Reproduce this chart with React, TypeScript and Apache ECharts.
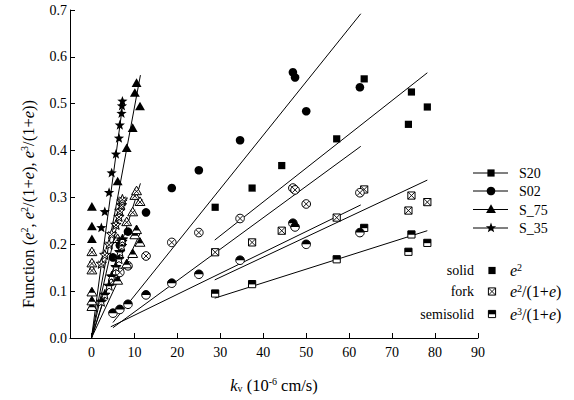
import React, { useEffect, useRef } from 'react';
import * as echarts from 'echarts';

const FONT = 'Liberation Serif, Times New Roman, serif';

const xTicks = [0, 10, 20, 30, 40, 50, 60, 70, 80, 90];

// S20 (squares)
const s20X = [28.8, 37.4, 44.3, 57.1, 63.5, 73.8, 74.5, 78.2];
const s20E2 = [0.279, 0.32, 0.368, 0.425, 0.553, 0.456, 0.525, 0.493];
const s20Fork = [0.183, 0.204, 0.229, 0.257, 0.317, 0.272, 0.304, 0.29];
const s20SemiX = [28.8, 37.4, 57.1, 63.5, 73.8, 74.5, 78.2];
const s20Semi = [0.095, 0.115, 0.168, 0.235, 0.184, 0.221, 0.203];

// S02 (circles)
const s02X = [5.0, 6.6, 8.5, 12.7, 18.7, 25.0, 34.6, 46.9, 47.4, 50.0, 62.5];
const s02E2 = [0.172, 0.198, 0.227, 0.268, 0.32, 0.358, 0.422, 0.567, 0.556, 0.484, 0.535];
const s02Fork = [0.122, 0.14, 0.154, 0.175, 0.204, 0.225, 0.255, 0.32, 0.316, 0.286, 0.31];
const s02Semi = [0.053, 0.061, 0.072, 0.092, 0.117, 0.136, 0.166, 0.245, 0.237, 0.2, 0.225];

// S_75 (triangles)
const s75X = [0.1, 0.1, 0.1, 6.1, 8.2, 9.6, 10.1, 10.5, 11.3];
const s75E2 = [0.21, 0.237, 0.279, 0.333, 0.404, 0.447, 0.522, 0.543, 0.493];
const s75Fork = [0.144, 0.159, 0.183, 0.211, 0.247, 0.268, 0.303, 0.313, 0.29];
const s75Semi = [0.066, 0.078, 0.097, 0.122, 0.157, 0.179, 0.219, 0.23, 0.203];

// S_35 (stars)
const s35X = [2.3, 3.1, 4.1, 4.7, 5.7, 6.4, 6.6, 7.0, 7.1, 7.2];
const s35E2 = [0.235, 0.269, 0.31, 0.352, 0.392, 0.426, 0.454, 0.479, 0.495, 0.505];
const s35Fork = [0.158, 0.177, 0.199, 0.221, 0.241, 0.258, 0.271, 0.283, 0.291, 0.295];
const s35Semi = [0.077, 0.092, 0.111, 0.131, 0.151, 0.168, 0.183, 0.196, 0.205, 0.21];

// fitted lines (end points)
const lineS20X = [28.7, 78.2];
const lineS20E2 = [0.209, 0.566];
const lineS20Fork = [0.124, 0.337];
const lineS20Semi = [0.085, 0.229];
const lineS02X = [5.0, 62.7];
const lineS02E2 = [0.033, 0.692];
const lineS02Fork = [0.022, 0.409];
const lineS02SemiX = [4.5, 62.7];
const lineS02Semi = [0.024, 0.284];
const lineS75X = [0, 11.4];
const lineS75E2 = [0, 0.561];
const lineS75Fork = [0, 0.33];
const lineS75Semi = [0, 0.225];
const lineS35X = [0, 7.4];
const lineS35E2 = [0, 0.507];
const lineS35Fork = [0, 0.3];
const lineS35Semi = [0, 0.21];

const soilNames = ['S20', 'S02', 'S_75', 'S_35'];
const soilShapes = ['square', 'circle', 'triangle', 'star'];
const fillNames = ['solid', 'fork', 'semisolid'];

type P = [number, number];

function starPts(cx: number, cy: number, R: number): P[] {
  const pts: P[] = [];
  for (let k = 0; k < 10; k++) {
    const r = k % 2 === 0 ? R : R * 0.42;
    const a = -Math.PI / 2 + (k * Math.PI) / 5;
    pts.push([cx + r * Math.cos(a), cy + r * Math.sin(a)]);
  }
  return pts;
}

function clipAbove(pts: P[], yc: number): P[] {
  const out: P[] = [];
  for (let i = 0; i < pts.length; i++) {
    const a = pts[i];
    const b = pts[(i + 1) % pts.length];
    const ain = a[1] <= yc;
    const bin = b[1] <= yc;
    if (ain) out.push(a);
    if (ain !== bin) {
      const t = (yc - a[1]) / (b[1] - a[1]);
      out.push([a[0] + t * (b[0] - a[0]), yc]);
    }
  }
  return out;
}

function seg(x1: number, y1: number, x2: number, y2: number) {
  return { type: 'line', shape: { x1, y1, x2, y2 }, style: { stroke: '#000', lineWidth: 0.9 } };
}

function glyph(shape: string, fill: string, cx: number, cy: number): any[] {
  const B = '#000';
  const ch: any[] = [];
  if (shape === 'circle') {
    const r = 4.3;
    if (fill === 'solid') {
      ch.push({ type: 'circle', shape: { cx, cy, r }, style: { fill: B } });
    } else {
      ch.push({ type: 'circle', shape: { cx, cy, r }, style: { fill: '#fff', stroke: B, lineWidth: 1 } });
      if (fill === 'semisolid') {
        ch.push({
          type: 'sector',
          shape: { cx, cy, r0: 0, r, startAngle: Math.PI, endAngle: Math.PI * 2, clockwise: true },
          style: { fill: B },
        });
      } else {
        const d = r * 0.68;
        ch.push(seg(cx - d, cy - d, cx + d, cy + d), seg(cx - d, cy + d, cx + d, cy - d));
      }
    }
    return ch;
  }
  let pts: P[];
  let d: number;
  if (shape === 'square') {
    const r = 3.6;
    pts = [[cx - r, cy - r], [cx + r, cy - r], [cx + r, cy + r], [cx - r, cy + r]];
    d = r;
  } else if (shape === 'triangle') {
    const r = 5.2;
    pts = [[cx, cy - r], [cx + r * 0.95, cy + r * 0.65], [cx - r * 0.95, cy + r * 0.65]];
    d = 2.6;
  } else {
    pts = starPts(cx, cy, 5.4);
    d = 3.2;
  }
  if (fill === 'solid') {
    ch.push({ type: 'polygon', shape: { points: pts }, style: { fill: B } });
  } else {
    ch.push({ type: 'polygon', shape: { points: pts }, style: { fill: '#fff', stroke: B, lineWidth: 1 } });
    if (fill === 'semisolid') {
      ch.push({ type: 'polygon', shape: { points: clipAbove(pts, cy + 0.3) }, style: { fill: B } });
    } else {
      ch.push(seg(cx - d, cy - d, cx + d, cy + d), seg(cx - d, cy + d, cx + d, cy - d));
    }
  }
  return ch;
}

function markSeries(name: string, xs: number[], ys: number[], shape: string, fill: string) {
  return {
    name,
    type: 'custom',
    coordinateSystem: 'cartesian2d',
    data: xs.map((x, i) => [x, ys[i]]),
    renderItem: (_params: any, api: any) => {
      const p = api.coord([api.value(0), api.value(1)]);
      return { type: 'group', children: glyph(shape, fill, p[0], p[1]) };
    },
    z: 3,
    silent: true,
  };
}

function fitSeries(xs: number[], ys: number[]) {
  return {
    type: 'line',
    data: xs.map((x, i) => [x, ys[i]]),
    symbol: 'none',
    lineStyle: { color: '#000', width: 1 },
    z: 2,
    silent: true,
  };
}

function richMath(size: number) {
  const s = Math.round(size * 0.62);
  return {
    i: { fontStyle: 'italic', fontFamily: FONT, fontSize: size, fill: '#000' },
    sup: { fontSize: s, fontFamily: FONT, verticalAlign: 'top', fill: '#000' },
    sub: { fontSize: s, fontFamily: FONT, verticalAlign: 'bottom', fill: '#000' },
  };
}

export default function App() {
  const ref = useRef<HTMLDivElement>(null);
  useEffect(() => {
    if (!ref.current) return;
    const chart = echarts.init(ref.current, null, { renderer: 'svg' });

    const graphics: any[] = [];
    // soil legend
    const legY = [173, 191, 209.5, 228];
    soilNames.forEach((n, k) => {
      graphics.push({
        type: 'group',
        children: [
          { type: 'line', shape: { x1: 473, y1: legY[k], x2: 508, y2: legY[k] }, style: { stroke: '#000', lineWidth: 1 } },
          ...glyph(soilShapes[k], 'solid', 491, legY[k]),
          {
            type: 'text',
            x: 519,
            y: legY[k] + 0.5,
            style: { text: n, fontFamily: FONT, fontSize: 14, fill: '#000', align: 'left', verticalAlign: 'middle' },
          },
        ],
      });
    });
    // fill legend
    const fY = [270.5, 291.5, 314];
    const mathTexts = ['{i|e}{sup|2}', '{i|e}{sup|2}/(1+{i|e})', '{i|e}{sup|3}/(1+{i|e})'];
    fillNames.forEach((n, k) => {
      graphics.push({
        type: 'group',
        children: [
          {
            type: 'text',
            x: 474,
            y: fY[k],
            style: { text: n, fontFamily: FONT, fontSize: 14, fill: '#000', align: 'right', verticalAlign: 'middle' },
          },
          ...glyph('square', n, 492, fY[k]),
          {
            type: 'text',
            x: 510,
            y: fY[k],
            style: {
              text: mathTexts[k],
              fontFamily: FONT,
              fontSize: 16,
              fill: '#000',
              align: 'left',
              verticalAlign: 'middle',
              rich: richMath(16),
            },
          },
        ],
      });
    });
    // axis names
    graphics.push({
      type: 'text',
      x: 28,
      y: 204,
      rotation: Math.PI / 2,
      style: {
        text: 'Function ({i|e}{sup|2}, {i|e}{sup|2}/(1+{i|e}), {i|e}{sup|3}/(1+{i|e}))',
        fontFamily: FONT,
        fontSize: 16.5,
        fill: '#000',
        align: 'center',
        verticalAlign: 'middle',
        rich: richMath(16.5),
      },
    });
    graphics.push({
      type: 'text',
      x: 274,
      y: 385,
      style: {
        text: '{i|k}{sub|v} (10{sup|-6} cm/s)',
        fontFamily: FONT,
        fontSize: 16.5,
        fill: '#000',
        align: 'center',
        verticalAlign: 'middle',
        rich: richMath(16.5),
      },
    });

    const series: any[] = [
      fitSeries(lineS20X, lineS20E2),
      fitSeries(lineS20X, lineS20Fork),
      fitSeries(lineS20X, lineS20Semi),
      fitSeries(lineS02X, lineS02E2),
      fitSeries(lineS02X, lineS02Fork),
      fitSeries(lineS02SemiX, lineS02Semi),
      fitSeries(lineS75X, lineS75E2),
      fitSeries(lineS75X, lineS75Fork),
      fitSeries(lineS75X, lineS75Semi),
      fitSeries(lineS35X, lineS35E2),
      fitSeries(lineS35X, lineS35Fork),
      fitSeries(lineS35X, lineS35Semi),
      markSeries('S20 solid', s20X, s20E2, 'square', 'solid'),
      markSeries('S20 fork', s20X, s20Fork, 'square', 'fork'),
      markSeries('S20 semisolid', s20SemiX, s20Semi, 'square', 'semisolid'),
      markSeries('S02 solid', s02X, s02E2, 'circle', 'solid'),
      markSeries('S02 fork', s02X, s02Fork, 'circle', 'fork'),
      markSeries('S02 semisolid', s02X, s02Semi, 'circle', 'semisolid'),
      markSeries('S_75 solid', s75X, s75E2, 'triangle', 'solid'),
      markSeries('S_75 fork', s75X, s75Fork, 'triangle', 'fork'),
      markSeries('S_75 semisolid', s75X, s75Semi, 'triangle', 'semisolid'),
      markSeries('S_35 solid', s35X, s35E2, 'star', 'solid'),
      markSeries('S_35 fork', s35X, s35Fork, 'star', 'fork'),
      markSeries('S_35 semisolid', s35X, s35Semi, 'star', 'semisolid'),
    ];

    chart.setOption({
      animation: false,
      backgroundColor: '#fff',
      grid: { left: 70, right: 96, top: 10, bottom: 62, containLabel: false },
      xAxis: {
        type: 'value',
        min: -5,
        max: 90,
        axisLine: { onZero: false, lineStyle: { color: '#000', width: 1 } },
        axisTick: { inside: true, length: 5, customValues: xTicks, lineStyle: { color: '#000' } },
        axisLabel: {
          customValues: xTicks,
          color: '#000',
          fontFamily: FONT,
          fontSize: 14,
          margin: 7,
        },
        splitLine: { show: false },
      },
      yAxis: {
        type: 'value',
        min: 0,
        max: 0.7,
        interval: 0.1,
        axisLine: { show: true, onZero: false, lineStyle: { color: '#000', width: 1 } },
        axisTick: { show: true, inside: true, length: 5, lineStyle: { color: '#000' } },
        axisLabel: {
          color: '#000',
          fontFamily: FONT,
          fontSize: 14,
          margin: 3,
          formatter: (v: number) => v.toFixed(1),
        },
        splitLine: { show: false },
      },
      graphic: graphics,
      series,
    });
    return () => chart.dispose();
  }, []);
  return <div ref={ref} style={{ position: 'absolute', left: 0, top: 0, width: 574, height: 400 }} />;
}
